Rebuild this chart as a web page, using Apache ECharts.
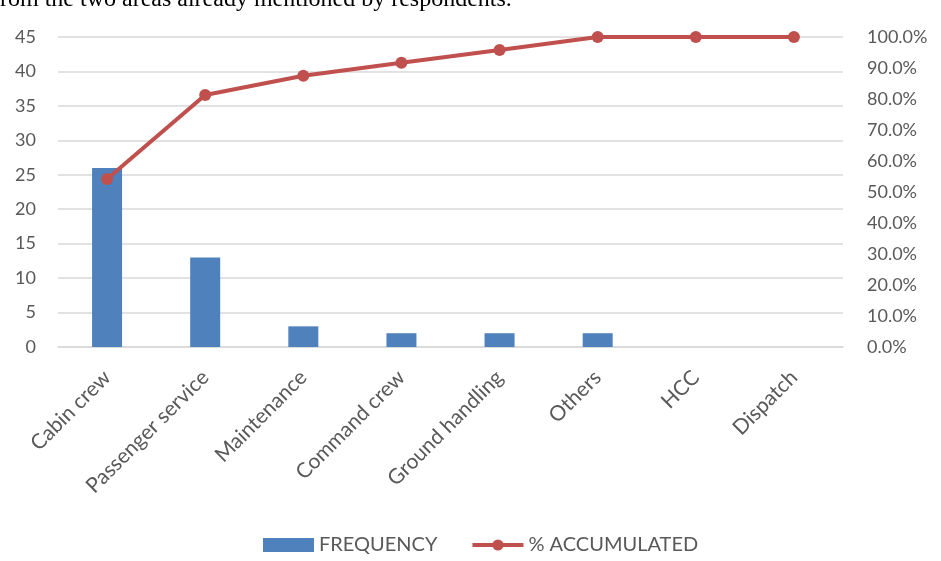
<!DOCTYPE html>
<html>
<head>
<meta charset="utf-8">
<script src="https://cdn.jsdelivr.net/npm/echarts@6/dist/echarts.min.js"></script>
<style>
  html, body { margin: 0; padding: 0; background: #fff; }
  #chart { width: 941px; height: 561px; }
</style>
</head>
<body>
<div id="chart"></div>
<script>
// Areas named by respondents, with counts and running share of all mentions
const categories = ['Cabin crew', 'Passenger service', 'Maintenance', 'Command crew', 'Ground handling', 'Others', 'HCC', 'Dispatch'];
const frequency = [26, 13, 3, 2, 2, 2, 0, 0];
const accumulated = [54.2, 81.3, 87.5, 91.7, 95.8, 100, 100, 100];
const leftTicks = { min: 0, max: 45, interval: 5 };
const rightTicks = { min: 0, max: 100, interval: 10 };
const captionText = 'rom the two areas already mentioned by respondents.';

const labelFont = 'Lato, "Open Sans", sans-serif';
const textColor = '#595959';
const barColor = '#4F81BD';
const lineColor = '#C0504D';

const chart = echarts.init(document.getElementById('chart'), null, { renderer: 'canvas' });
chart.setOption({
  animation: false,
  backgroundColor: '#fff',
  graphic: [{
    type: 'text',
    left: 0,
    top: -12,
    style: {
      text: captionText,
      font: '24px "Liberation Serif", "DejaVu Serif", serif',
      fill: '#000'
    }
  }],
  grid: { left: 58, right: 98, top: 37, bottom: 214 },
  legend: {
    bottom: 1,
    left: 258,
    itemWidth: 51,
    itemHeight: 14,
    itemGap: 33,
    textStyle: { color: textColor, fontSize: 20, fontFamily: labelFont },
    data: [
      { name: 'FREQUENCY', icon: 'rect' },
      { name: '% ACCUMULATED', lineStyle: { width: 4 } }
    ]
  },
  xAxis: {
    type: 'category',
    data: categories,
    axisLine: { lineStyle: { color: '#d9d9d9', width: 1.5 } },
    axisTick: { show: false },
    axisLabel: {
      rotate: 45,
      interval: 0,
      margin: 27,
      color: textColor,
      fontSize: 21,
      fontFamily: labelFont
    }
  },
  yAxis: [{
    type: 'value',
    min: leftTicks.min,
    max: leftTicks.max,
    interval: leftTicks.interval,
    axisLine: { show: false },
    axisTick: { show: false },
    axisLabel: { color: textColor, fontSize: 18, fontFamily: labelFont, margin: 22 },
    splitLine: { lineStyle: { color: '#d9d9d9', width: 1.5 } }
  }, {
    type: 'value',
    min: rightTicks.min,
    max: rightTicks.max,
    interval: rightTicks.interval,
    axisLine: { show: false },
    axisTick: { show: false },
    splitLine: { show: false },
    axisLabel: {
      color: textColor, fontSize: 18, fontFamily: labelFont, margin: 24,
      formatter: v => v.toFixed(1) + '%'
    }
  }],
  series: [{
    name: 'FREQUENCY',
    type: 'bar',
    yAxisIndex: 0,
    data: frequency,
    barWidth: 30,
    itemStyle: { color: barColor }
  }, {
    name: '% ACCUMULATED',
    type: 'line',
    yAxisIndex: 1,
    data: accumulated,
    symbol: 'circle',
    symbolSize: 12,
    lineStyle: { color: lineColor, width: 4 },
    itemStyle: { color: lineColor },
    z: 5
  }]
});
</script>
</body>
</html>
